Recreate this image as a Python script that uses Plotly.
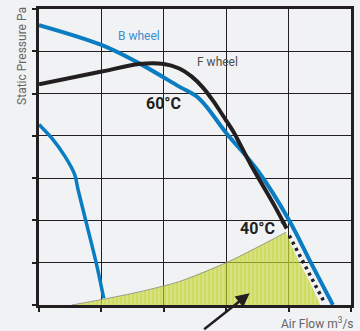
import plotly.graph_objects as go

# ---- data (x: air flow units, y: static pressure units) ----
b_upper_x = [0.0, 1.0, 1.6, 2.24, 2.56, 3.0, 3.51, 4.01, 4.35, 4.71]
b_upper_y = [6.62, 6.15, 5.72, 5.17, 4.89, 4.07, 3.17, 2.0, 1.02, 0.0]

b_lower_x = [0.0, 0.202, 0.413, 0.571, 0.624, 0.73, 0.916, 1.037]
b_lower_y = [4.27, 3.95, 3.52, 3.09, 2.74, 2.11, 1.0, 0.16]

f_x = [0.0, 1.005, 1.603, 2.0, 2.238, 2.449, 2.635, 2.794, 2.952, 3.111, 3.397, 3.773, 3.968]
f_y = [5.22, 5.52, 5.70, 5.70, 5.60, 5.40, 5.13, 4.82, 4.47, 4.11, 3.31, 2.35, 1.81]

f_dot_x = [4.011, 4.567]
f_dot_y = [1.64, 0.08]

env_x = [0.524, 1.02, 1.603, 2.238, 3.03, 3.957, 4.14, 4.35, 4.51]
env_y = [0.0, 0.134, 0.31, 0.55, 1.02, 1.72, 1.1, 0.52, 0.0]

BLUE = "#0a7dc2"
BLACK = "#231f20"
YEL = "#c2d42a"
BG = "#f1f2f4"
FONT = "Roboto"

fig = go.Figure()

# yellow hatched operating area
fig.add_trace(go.Scatter(
    x=env_x, y=env_y, mode="lines", fill="tozeroy",
    line=dict(width=0, color=YEL),
    fillcolor="rgba(0,0,0,0)",
    fillpattern=dict(shape="|", fgcolor=YEL, bgcolor="rgba(200,216,60,0.5)",
                     size=4, solidity=0.7),
    hoverinfo="skip", showlegend=False))
# thin gray envelope on top-left edge
fig.add_trace(go.Scatter(
    x=env_x[:6], y=env_y[:6], mode="lines",
    line=dict(width=0.8, color="#8a8a8a", shape="spline", smoothing=0.8),
    hoverinfo="skip", showlegend=False))

fig.add_trace(go.Scatter(
    x=b_lower_x, y=b_lower_y, mode="lines",
    line=dict(width=3.5, color=BLUE, shape="spline", smoothing=0.8),
    showlegend=False))
fig.add_trace(go.Scatter(
    x=b_upper_x, y=b_upper_y, mode="lines",
    line=dict(width=4, color=BLUE, shape="spline", smoothing=1.0),
    showlegend=False))
fig.add_trace(go.Scatter(
    x=f_x, y=f_y, mode="lines",
    line=dict(width=4, color=BLACK, shape="spline", smoothing=0.8),
    showlegend=False))
# arrow tip at the end of the F wheel curve
fig.add_trace(go.Scatter(
    x=f_x[-2:], y=f_y[-2:], mode="markers",
    marker=dict(symbol="arrow", angleref="previous", size=[0, 9],
                color=BLACK, line=dict(width=0)),
    hoverinfo="skip", showlegend=False, cliponaxis=False))
fig.add_trace(go.Scatter(
    x=f_dot_x, y=f_dot_y, mode="lines",
    line=dict(width=3.5, color=BLACK, dash="3px,4px"),
    showlegend=False))

ax_common = dict(showgrid=True, gridcolor=BLACK, gridwidth=1.3,
                 showticklabels=False, ticks="outside", ticklen=4,
                 tickcolor=BLACK, tickwidth=1.5, showline=True,
                 linecolor=BLACK, linewidth=2.5, mirror=True,
                 zeroline=False, dtick=1, fixedrange=True)

fig.update_layout(
    width=360, height=331,
    margin=dict(l=39, r=6, t=7, b=26),
    paper_bgcolor=BG, plot_bgcolor=BG,
    xaxis=dict(range=[0, 5], **ax_common),
    yaxis=dict(range=[0, 7], **ax_common),
    font=dict(family=FONT),
)

ann = []
ann.append(dict(x=1.6, y=6.366, text="B wheel", showarrow=False,
                font=dict(size=12, color="#3b8fd0", family=FONT)))
ann.append(dict(x=2.865, y=5.755, text="F wheel", showarrow=False,
                font=dict(size=12, color="#4d4d4d", family=FONT)))
ann.append(dict(x=1.995, y=4.776, text="<b>60°C</b>", showarrow=False,
                font=dict(size=16, color=BLACK, family=FONT)))
ann.append(dict(x=3.505, y=1.82, text="<b>40°C</b>", showarrow=False,
                font=dict(size=16, color=BLACK, family=FONT)))
ann.append(dict(xref="paper", yref="paper", x=-0.054, y=0.842,
                xanchor="center", yanchor="middle",
                text="Static Pressure Pa", textangle=-90, showarrow=False,
                font=dict(size=12, color="#666666", family=FONT)))
ann.append(dict(xref="paper", yref="paper", x=0.892, y=-0.0614,
                xanchor="center", yanchor="middle",
                text="Air Flow m<sup>3</sup>/s", showarrow=False,
                font=dict(size=12, color="#666666", family=FONT)))
# big arrow pointing into operating area
ann.append(dict(x=3.376, y=0.275, ax=-47, ay=37, text="", showarrow=True,
                arrowhead=2, arrowsize=1.1, arrowwidth=2.5, arrowcolor=BLACK))
fig.update_layout(annotations=ann)

fig.write_html("out.html", config={"displayModeBar": False},
               post_script="document.body.style.margin='0';")
